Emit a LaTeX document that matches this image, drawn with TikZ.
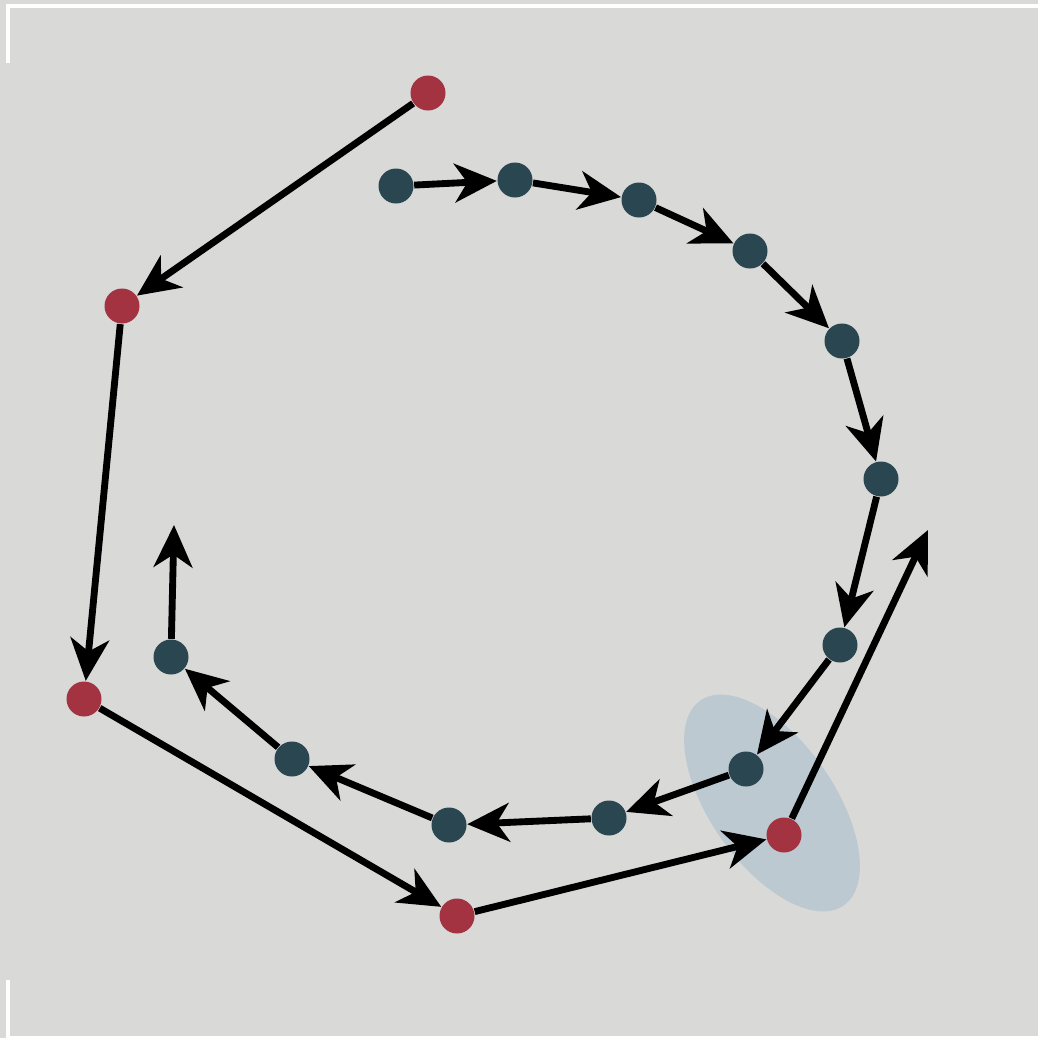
\documentclass[tikz,border=0pt]{standalone}
\usetikzlibrary{arrows.meta}
\definecolor{bgc}{HTML}{D9D9D7}
\definecolor{dotdark}{HTML}{2A4651}
\definecolor{dotred}{HTML}{A33341}
\definecolor{ellc}{HTML}{BCC9D1}
\begin{document}
\begin{tikzpicture}[x=0.1mm,y=-0.1mm,
  dk/.style={circle,fill=dotdark,inner sep=0pt,minimum width=3.4mm,minimum height=3.5mm},
  rd/.style={circle,fill=dotred,inner sep=0pt,minimum width=3.4mm,minimum height=3.5mm},
  conn/.style={line width=1.95pt,-{Stealth[length=12pt,width=11pt,inset=3.6pt]}},
  frame/.style={white,line width=1.0pt}]
\fill[bgc] (0,0) rectangle (1038,1038);
\useasboundingbox (0,0) rectangle (1038,1038);
\draw[frame] (8,63) -- (8,6) -- (1038,6);
\draw[frame] (8,980) -- (8,1038) -- (1038,1038);
\fill[ellc] (772,803) ellipse[x radius=12.5mm,y radius=6.2mm,rotate=-55];
% red nodes
\node[rd] (r1) at (428,93) {};
\node[rd] (r2) at (122,306) {};
\node[rd] (r3) at (84,699) {};
\node[rd] (r4) at (457,916) {};
\node[rd] (r5) at (784,835) {};
\coordinate (rend) at (928,530);
% dark nodes
\node[dk] (d1) at (396,186) {};
\node[dk] (d2) at (515,180) {};
\node[dk] (d3) at (639,200) {};
\node[dk] (d4) at (750,251) {};
\node[dk] (d5) at (842,341) {};
\node[dk] (d6) at (881,479) {};
\node[dk] (d7) at (840,645) {};
\node[dk] (d8) at (746,769) {};
\node[dk] (d9) at (609,818) {};
\node[dk] (d10) at (449,825) {};
\node[dk] (d11) at (292,759) {};
\node[dk] (d12) at (171,657) {};
\coordinate (dend) at (174,525);
% connectors
\draw[conn] (r1) -- (r2);
\draw[conn] (r2) -- (r3);
\draw[conn] (r3) -- (r4);
\draw[conn] (r4) -- (r5);
\draw[conn] (r5) -- (rend);
\draw[conn] (d1) -- (d2);
\draw[conn] (d2) -- (d3);
\draw[conn] (d3) -- (d4);
\draw[conn] (d4) -- (d5);
\draw[conn] (d5) -- (d6);
\draw[conn] (d6) -- (d7);
\draw[conn] (d7) -- (d8);
\draw[conn] (d8) -- (d9);
\draw[conn] (d9) -- (d10);
\draw[conn] (d10) -- (d11);
\draw[conn] (d11) -- (d12);
\draw[conn] (d12) -- (dend);
\end{tikzpicture}
\end{document}
